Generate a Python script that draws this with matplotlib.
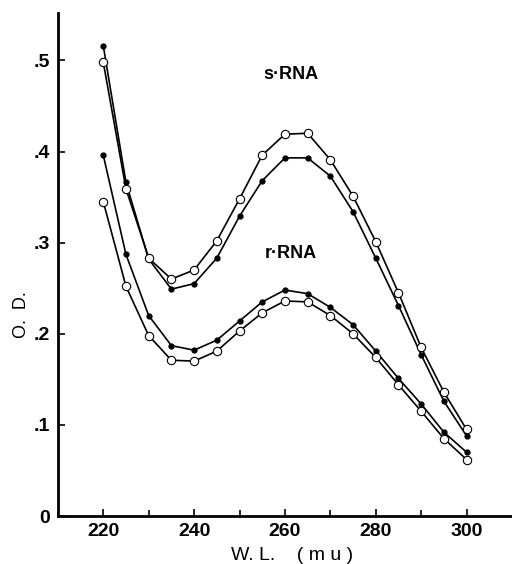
import matplotlib
matplotlib.use("Agg")
import matplotlib.pyplot as plt

plt.rcParams['font.family'] = ['Liberation Sans', 'DejaVu Sans']

# wavelength (mu)
wl = [220, 225, 230, 235, 240, 245, 250, 255, 260, 265, 270, 275, 280, 285, 290, 295, 300]

# s-RNA
s_filled = [0.516, 0.366, 0.282, 0.249, 0.255, 0.283, 0.329, 0.368, 0.393, 0.393,
            0.373, 0.334, 0.283, 0.231, 0.177, 0.126, 0.088]
s_open = [0.498, 0.359, 0.283, 0.260, 0.270, 0.302, 0.348, 0.396, 0.419, 0.420,
          0.391, 0.351, 0.301, 0.245, 0.185, 0.136, 0.095]

# r-RNA
r_filled = [0.396, 0.287, 0.220, 0.187, 0.182, 0.193, 0.214, 0.235, 0.248, 0.244,
            0.229, 0.210, 0.181, 0.151, 0.123, 0.092, 0.070]
r_open = [0.345, 0.252, 0.198, 0.171, 0.170, 0.181, 0.203, 0.223, 0.236, 0.235,
          0.220, 0.200, 0.174, 0.144, 0.115, 0.085, 0.062]

yticks = [0, 0.1, 0.2, 0.3, 0.4, 0.5]
ytick_labels = ['0', '.1', '.2', '.3', '.4', '.5']
xticks = [220, 240, 260, 280, 300]

fig = plt.figure(figsize=(5.12, 5.64), dpi=100)
ax = fig.add_axes([0.113, 0.085, 0.887, 0.892])

for vals in (s_filled, r_filled):
    ax.plot(wl, vals, color='black', lw=1.2, marker='o', markersize=3.5,
            markerfacecolor='black', markeredgecolor='black', zorder=2)
for vals in (s_open, r_open):
    ax.plot(wl, vals, color='black', lw=1.2, marker='o', markersize=6,
            markerfacecolor='white', markeredgecolor='black', markeredgewidth=0.8,
            zorder=3)

ax.text(261.4, 0.484, 's·RNA', fontsize=13, fontweight='bold', ha='center', va='center')
ax.text(261.2, 0.288, 'r·RNA', fontsize=13, fontweight='bold', ha='center', va='center')

ax.set_xlim(210, 310)
ax.set_ylim(0, 0.552)
ax.set_yticks(yticks)
ax.set_yticklabels(ytick_labels)
ax.set_xticks(xticks)
ax.set_xticks(range(220, 301, 10), minor=True)
ax.tick_params(axis='both', which='both', direction='in', width=1.2)
ax.tick_params(axis='y', length=5, pad=6, labelsize=14)
ax.tick_params(axis='x', which='major', length=5, pad=5, labelsize=14)
ax.tick_params(axis='x', which='minor', length=4)
for lab in ax.get_xticklabels() + ax.get_yticklabels():
    lab.set_fontweight('bold')

ax.spines['top'].set_visible(False)
ax.spines['right'].set_visible(False)
ax.spines['left'].set_linewidth(2)
ax.spines['bottom'].set_linewidth(2)

fig.text(22 / 512, 1 - 315 / 564, 'O.  D.', rotation=90, fontsize=13,
         ha='center', va='center')
fig.text(292 / 512, 1 - 556 / 564, 'W. L.    ( m u )', fontsize=14,
         ha='center', va='center')

fig.savefig('out.png', dpi=100)
